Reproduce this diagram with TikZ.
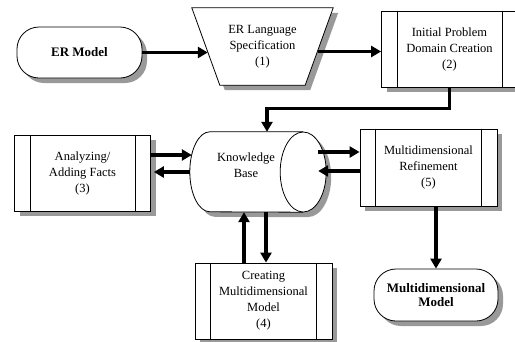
\documentclass[tikz,border=0pt]{standalone}
\usepackage{fontspec}
\setmainfont{Liberation Serif}
\usetikzlibrary{arrows.meta,shadows,backgrounds,calc}
\begin{document}
\begin{tikzpicture}[x=1pt,y=-1pt,
  every node/.style={font=\fontsize{12.5}{16}\selectfont, align=center, inner sep=0pt},
  outline/.style={draw=black, line width=0.8pt},
  shade/.style={fill=black!40},
  shadowed/.style={drop shadow={shadow xshift=5pt, shadow yshift=-5pt, opacity=1, fill=black!40}},
  term/.style={outline, fill=white, rounded corners=22pt, shadowed,
    font=\fontsize{13}{14.5}\selectfont\bfseries},
  proc/.style={outline, fill=white, shadowed, minimum width=136pt, minimum height=76pt},
  flow/.style={line width=3.5pt, -{Triangle[length=10pt,width=11pt]}},
]
\useasboundingbox (0,0) rectangle (515,341);
\clip (0,0) rectangle (515,341);

% terminators
\node[term, minimum width=125pt, minimum height=51pt] (em) at (79.5,52.5) {ER Model};
\node[term, minimum width=124pt, minimum height=52pt] (mm) at (436,295) {Multidimensional\\Model};

% process boxes
\node[proc] (b2) at (449.5,49) {Initial Problem\\Domain Creation\\(2)};
\node[proc] (b3) at (82.5,173) {Analyzing/\\Adding Facts\\(3)};
\node[proc, minimum width=137pt] (b4) at (263.5,301) {Creating\\Multidimensional\\Model\\(4)};
\node[proc, minimum width=137pt, minimum height=77pt] (b5) at (428.5,167.5) {Multidimensional\\Refinement\\(5)};
\foreach \b in {b2,b3,b4,b5}
  \draw[outline] ([xshift=16pt]\b.north west) -- ([xshift=16pt]\b.south west)
                 ([xshift=-16pt]\b.north east) -- ([xshift=-16pt]\b.south east);

% manual input (trapezoid) and knowledge base (cylinder) frames
\node[minimum width=141pt, minimum height=77pt] (spec) at (262.5,46.5) {ER Language\\Specification\\(1)};
\node[minimum width=113pt, minimum height=80pt] (kb) at (246.5,172) {};
\node (kblabel) at (246,165) {Knowledge\\Base};

\begin{scope}[on background layer]
  % trapezoid with its shadow
  \fill[shade] ($(spec.north west)+(5,5)$) -- ($(spec.north east)+(5,5)$)
     -- ($(spec.south east)+(-23,5)$) -- ($(spec.south west)+(33,5)$) -- cycle;
  \draw[outline, fill=white] (spec.north west) -- (spec.north east)
     -- ($(spec.south east)+(-28,0)$) -- ($(spec.south west)+(28,0)$) -- cycle;
  % cylinder with its shadow
  \fill[shade] ($(kb.north east)+(5,5)$) -- ($(kb.north west)+(25,5)$)
     arc[start angle=270, end angle=90, x radius=20, y radius=40] -- ($(kb.south east)+(5,5)$) -- cycle;
  \fill[shade] ($(kb.east)+(5,5)$) ellipse[x radius=23, y radius=40];
  \draw[outline, fill=white] (kb.north east) -- ($(kb.north west)+(20,0)$)
     arc[start angle=270, end angle=90, x radius=20, y radius=40] -- (kb.south east);
  \draw[outline, fill=white] (kb.east) ellipse[x radius=23, y radius=40];
\end{scope}

% connectors
\draw[flow] (em.east) -- ($(spec.west)+(16,6)$);
\draw[flow] ($(spec.east)+(-15,5)$) -- ($(b2.west)+(0,2.5)$);
\draw[flow] (b2.south) -- ++(0,21) -| ($(kb.north)+(20.5,0)$);
\draw[flow] ($(b3.east)+(0,-18)$) -- ($(kb.west)+(2,-17)$);
\draw[flow] (kb.west) -- ($(b3.east)+(3,-1)$);
\draw[flow] ($(kb.east)+(15,-20)$) -- ($(b5.west)+(0,-15.5)$);
\draw[flow] ($(b5.west)+(0,3.5)$) -- ($(kb.east)+(15,-1)$);
\draw[flow] ($(b4.north)+(-19.5,0)$) -- ($(kb.south)+(-2.5,0)$);
\draw[flow] ($(kb.south)+(19.5,0)$) -- ($(b4.north)+(2.5,0)$);
\draw[flow] (b5.south -| mm.north) -- (mm.north);
\end{tikzpicture}
\end{document}
